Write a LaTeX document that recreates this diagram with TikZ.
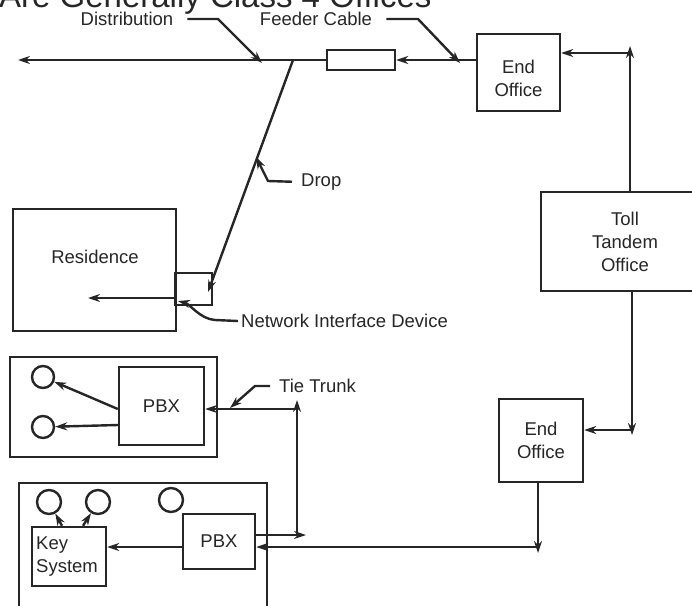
\documentclass[tikz,border=0pt]{standalone}
\usepackage{fontspec}
\setmainfont{Liberation Sans}
\usetikzlibrary{arrows.meta}
\begin{document}
\begin{tikzpicture}[x=1pt,y=-1pt,
  line width=2.4pt, color={black!85},
  txt/.style={font=\fontsize{18.5}{23}\selectfont, align=center, inner sep=0pt},
  box/.style={draw, rectangle, inner sep=0pt, font=\fontsize{18.5}{23}\selectfont, align=center},
  circ/.style={draw, circle, inner sep=0pt},
  arr/.style={-{Stealth[length=12pt,width=8pt]}}]
\useasboundingbox (0,0) rectangle (692,605);
\clip (0,0) rectangle (692,605);

% title (cut off at the top)
\node[anchor=base west, inner sep=0pt, font=\fontsize{33}{36}\selectfont] (title) at (-2,8) {Are Generally Class 4 Offices};

% boxes
\node[box, minimum width=83pt, minimum height=77pt] (eo1) at (518.5,72.5) {};
\node[txt] (eo1t) at (518.5,78) {End\\Office};
\node[box, minimum width=68pt, minimum height=20pt] (feeder) at (361,60) {};
\node[box, minimum width=168pt, minimum height=99pt] (toll) at (625,241.5) {Toll\\Tandem\\Office};
\node[box, minimum width=84pt, minimum height=83pt] (eo2) at (541,440.5) {End\\Office};
\node[box, minimum width=163pt, minimum height=122pt] (res) at (94.5,270) {};
\node[txt] (rest) at (95,257) {Residence};
\node[box, minimum width=37pt, minimum height=32pt] (nid) at (193.5,289) {};
\node[box, minimum width=207pt, minimum height=100pt] (out1) at (113.5,407) {};
\node[box, minimum width=85pt, minimum height=78pt] (pbx1) at (161.5,406) {PBX};
\node[circ, minimum size=22pt] (c1) at (43,377) {};
\node[circ, minimum size=22pt] (c2) at (43,427) {};
\node[box, minimum width=248pt, minimum height=132pt] (out2) at (143,549) {};
\node[box, minimum width=74pt, minimum height=59pt] (ks) at (69,556.5) {};
\node[txt, align=left, anchor=west] (kst) at (35,557) {Key\\System};
\node[box, minimum width=72pt, minimum height=55pt] (pbx2) at (219,541.5) {PBX};
\node[circ, minimum size=24pt] (c3) at (49,502) {};
\node[circ, minimum size=24pt] (c4) at (98,502) {};
\node[circ, minimum size=24pt] (c5) at (171,500) {};

% labels
\node[txt] (distL) at (127,19) {Distribution};
\node[txt] (feedL) at (316,19) {Feeder Cable};
\node[txt, anchor=west] (dropL) at (300,182) {Drop};
\node[txt, anchor=west] (nidL) at (240,321) {Network Interface Device};
\node[txt, anchor=west] (tieL) at (278,386) {Tie Trunk};

% coordinates
\coordinate (westEnd) at (18,60);
\coordinate (dropTop) at (293,60);
\coordinate (dropEnd) at (208,292);
\coordinate (resEnd) at (88,298);
\coordinate (t1) at (630,53);
\coordinate (t1top) at (630,46);
\coordinate (t2) at (632,430);
\coordinate (t2bot) at (632,435);
\coordinate (t3) at (538,547);
\coordinate (t3bot) at (538,553);
\coordinate (t4) at (306,535);
\coordinate (t5) at (297,535);
\coordinate (t5top) at (297,400);
\coordinate (t6) at (297,409);
\coordinate (y409) at (0,409);
\coordinate (y425) at (0,425);
\coordinate (d2) at (218,19);
\coordinate (d3) at (262,63);
\coordinate (f2) at (418,19);
\coordinate (f3) at (460,63);
\coordinate (p2) at (268,181);
\coordinate (p3) at (256,157);
\coordinate (n3) at (178,301);
\coordinate (k2) at (255,386);
\coordinate (k3) at (230,408);

% main lines
\draw[arr] (feeder.west) -- (westEnd);
\draw[arr] (eo1.west |- feeder.east) -- (feeder.east);
\draw[arr] (dropTop) -- (dropEnd);
\draw[arr] (nid.west |- resEnd) -- (resEnd);

\draw[arr] (t1) -- (eo1.east |- t1);
\draw[arr] (toll.north -| t1) -- (t1top);
\draw[arr] (toll.south -| t2) -- (t2bot);
\draw[arr] (t2) -- (eo2.east |- t2);
\draw[arr] (eo2.south -| t3) -- (t3bot);
\draw[arr] (t3) -- (pbx2.east |- t3);

\draw[arr] (pbx2.east |- t4) -- (t4);
\draw[arr] (t5) -- (t5top);
\draw[arr] (t6) -- (pbx1.east |- t6);

\draw[arr] (pbx1.west |- y409) -- (c1);
\draw[arr] (pbx1.west |- y425) -- (c2);
\draw[arr] (pbx2.west |- t3) -- (ks.east |- t3);
\draw[arr] ([xshift=-7pt]ks.north) -- (c3);
\draw[arr] ([xshift=14pt]ks.north) -- (c4);

% leaders
\draw[arr, shorten <=13pt] (distL.east) -- (d2) -- (d3);
\draw[arr, shorten <=13pt] (feedL.east) -- (f2) -- (f3);
\draw[arr, shorten <=8pt] (dropL.west) -- (p2) -- (p3);
\draw[arr] ([xshift=-2pt]nidL.west) -- (215,320) .. controls (200,319) and (190,304) .. (n3);
\draw[arr, shorten <=8pt] (tieL.west) -- (k2) -- (k3);
\end{tikzpicture}
\end{document}
